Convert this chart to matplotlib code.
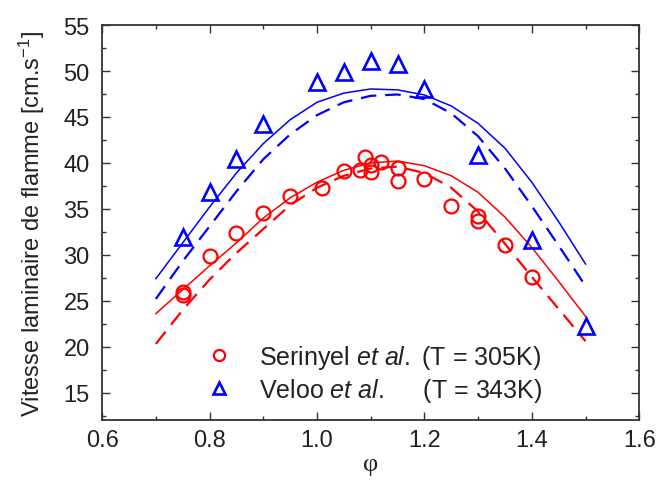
import matplotlib
matplotlib.use("Agg")
import matplotlib.pyplot as plt
from matplotlib.ticker import MultipleLocator
from matplotlib.lines import Line2D

plt.rcParams['font.family'] = ['Liberation Sans', 'DejaVu Sans']
plt.rcParams['mathtext.fontset'] = 'custom'
plt.rcParams['mathtext.rm'] = 'Liberation Sans'
plt.rcParams['mathtext.it'] = 'Liberation Sans:italic'

# Experimental data
ser_phi = [0.75, 0.75, 0.80, 0.85, 0.90, 0.95, 1.01, 1.05, 1.08, 1.09, 1.10, 1.10,
           1.12, 1.15, 1.15, 1.20, 1.25, 1.30, 1.30, 1.35, 1.40]
ser_su = [25.9, 25.6, 29.9, 32.4, 34.5, 36.4, 37.3, 39.1, 39.2, 40.6, 39.8, 39.0,
          40.1, 39.5, 38.0, 38.3, 35.3, 34.2, 33.7, 31.1, 27.6]

vel_phi = [0.75, 0.80, 0.85, 0.90, 1.00, 1.05, 1.10, 1.15, 1.20, 1.30, 1.40, 1.50]
vel_su = [31.9, 36.8, 40.4, 44.2, 48.8, 49.9, 51.1, 50.8, 48.0, 40.9, 31.6, 22.2]

# Model curves
mod_phi = [0.70, 0.75, 0.80, 0.85, 0.90, 0.95, 1.00, 1.05, 1.10, 1.15, 1.20,
           1.25, 1.30, 1.35, 1.40, 1.45, 1.50]
blue_solid = [27.4, 31.3, 35.2, 38.9, 42.1, 44.7, 46.6, 47.6, 48.05, 47.95, 47.4,
              46.2, 44.3, 41.6, 37.9, 33.6, 29.0]
blue_dash = [25.2, 29.3, 33.1, 36.9, 40.4, 43.1, 45.2, 46.6, 47.3, 47.45, 46.95,
             45.4, 42.9, 39.4, 35.3, 31.0, 26.6]
red_solid = [23.6, 26.2, 28.8, 31.3, 34.0, 36.2, 37.9, 39.2, 40.0, 40.2, 39.7,
             38.6, 36.8, 34.1, 30.8, 27.1, 23.3]
red_dash = [20.3, 24.0, 27.3, 30.2, 32.8, 35.4, 37.3, 38.6, 39.4, 39.6, 38.9,
            37.3, 34.7, 31.2, 27.6, 24.1, 20.6]

fig = plt.figure(figsize=(6.59, 5.02), dpi=100)
ax = fig.add_axes([0.155, 0.161, 0.815, 0.787])

ax.plot(mod_phi, blue_solid, color='#0000ff', lw=1.1)
ax.plot(mod_phi, blue_dash, color='#0000ff', lw=1.6, dashes=(7, 4))
ax.plot(mod_phi, red_solid, color='#ff0000', lw=1.1)
ax.plot(mod_phi, red_dash, color='#ff0000', lw=1.6, dashes=(7, 4))

ax.plot(ser_phi, ser_su, 'o', ms=10, mfc='none', mec='#ff0000', mew=1.6, linestyle='none')
ax.plot(vel_phi, vel_su, '^', ms=11, mfc='none', mec='#0000ff', mew=1.9, linestyle='none')

ax.set_xlim(0.6, 1.6)
ax.set_ylim(12, 55)
ax.xaxis.set_major_locator(MultipleLocator(0.2))
ax.xaxis.set_minor_locator(MultipleLocator(0.1))
ax.yaxis.set_major_locator(MultipleLocator(5))
ax.yaxis.set_minor_locator(MultipleLocator(2.5))
ax.set_yticks([15, 20, 25, 30, 35, 40, 45, 50, 55])
ax.xaxis.set_major_formatter(plt.FormatStrFormatter('%.1f'))
ax.tick_params(which='both', direction='in', top=True, right=True, colors='#333333',
               labelcolor='#222222', labelsize=17)
ax.tick_params(axis='x', pad=6)
ax.tick_params(axis='y', pad=9)
ax.tick_params(which='major', length=6, width=1)
ax.tick_params(which='minor', length=3, width=1)
for s in ax.spines.values():
    s.set_color('#333333')
    s.set_linewidth(1.3)

ax.set_ylabel(r'Vitesse laminaire de flamme [cm.s$^{\mathregular{-1}}$]', fontsize=17,
              color='#222222', labelpad=12)
ax.set_xlabel('φ', fontsize=19, family=['Liberation Serif', 'DejaVu Serif'],
              color='#222222', labelpad=2)

handles = [Line2D([], [], marker='o', ms=8, mfc='none', mec='#ff0000', mew=1.6, ls='none'),
           Line2D([], [], marker='^', ms=9, mfc='none', mec='#0000ff', mew=1.9, ls='none')]
labels = [r'Serinyel $\mathit{et\ al.}$ (T = 305K)',
          r'Veloo $\mathit{et\ al.}$     (T = 343K)']
ax.legend(handles, labels, loc='lower left', bbox_to_anchor=(0.13, -0.015), frameon=False,
          fontsize=18, handletextpad=0.6, labelspacing=0.2, labelcolor='#222222')

fig.savefig('out.png', dpi=100)
